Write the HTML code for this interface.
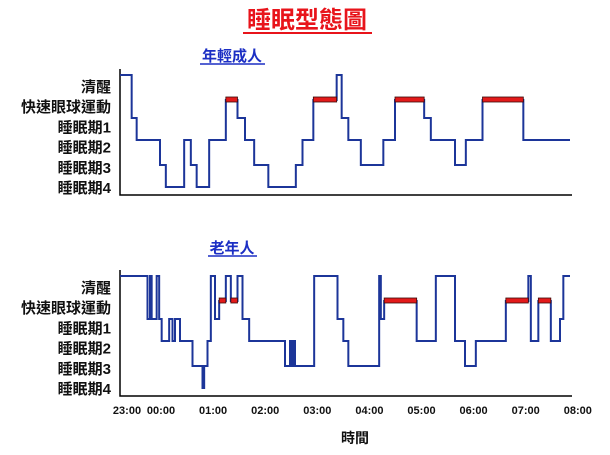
<!DOCTYPE html>
<html><head><meta charset="utf-8"><style>
body{margin:0;background:#fff;}
svg text{font-family:"Liberation Sans","Noto Sans CJK TC",sans-serif;font-weight:bold;}
</style></head><body>
<svg id="c" width="610" height="450" xmlns="http://www.w3.org/2000/svg">
<text x="307" y="28" text-anchor="middle" font-size="24" fill="#e8141b">睡眠型態圖</text>
<line x1="243" y1="33" x2="372" y2="33" stroke="#e8141b" stroke-width="2"/>
<text x="232" y="61" text-anchor="middle" font-size="15" fill="#1c2fc4">年輕成人</text>
<line x1="200" y1="64" x2="265" y2="64" stroke="#1c2fc4" stroke-width="1.5"/>
<text x="232" y="253" text-anchor="middle" font-size="15" fill="#1c2fc4">老年人</text>
<line x1="208" y1="256" x2="257" y2="256" stroke="#1c2fc4" stroke-width="1.5"/>
<text x="355" y="443" text-anchor="middle" font-size="14" fill="#111">時間</text>
<g id="plots"></g>
</svg>
<script>
const stageLabels=["清醒","快速眼球運動","睡眠期1","睡眠期2","睡眠期3","睡眠期4"];
const tickLabels=["23:00","00:00","01:00","02:00","03:00","04:00","05:00","06:00","07:00","08:00"];
// stage: 0=W 1=REM 2=S1 3=S2 4=S3 5=S4 ; times in minutes from 23:00
const youngTimes=[0,14,20,48,55,77,85,92,107,127,141,150,161,178,211,219,232,260,266,274,289,316,330,365,373,402,415,435,484];
const youngStages=[0,2,3,4,5,3,4,5,3,1,2,3,4,5,4,3,1,0,2,3,4,3,1,2,3,4,3,1,3];
const oldTimes=[0,33,36,38,44,47,50,59,63,66,72,87,99,101,105,109,114,119,127,133,141,147,155,198,204,206,208,210,233,261,268,274,311,313,317,356,379,402,414,427,463,490,493,502,517,528,532];
const oldStages=[0,2,0,2,0,2,3,2,3,2,3,4,5,4,3,0,2,1,0,1,0,2,3,4,3,4,3,4,0,2,3,4,0,2,1,3,0,3,4,3,1,0,3,1,3,2,0];
const endTime=540;
const NS="http://www.w3.org/2000/svg";
const g=document.getElementById('plots');
function x(t){return 120+t*(450/540);}
const levelOffsets=[0,25,43,65,90,112];
function yLevel(s,top){return top+levelOffsets[s];}
function labY(i,top){return top+12+i*20.2;}
function mk(tag,attrs){const e=document.createElementNS(NS,tag);for(const k in attrs)e.setAttribute(k,attrs[k]);g.appendChild(e);return e;}
function drawPlot(times,stages,top,name){
  for(let i=0;i<stageLabels.length;i++){
    const t=mk('text',{x:111,y:labY(i,top)+5,'text-anchor':'end','font-size':15,fill:'#111'});
    t.textContent=stageLabels[i];
    
    
  }
  const ax=mk('path',{d:`M120,${top-6} V${top+120} H572`,stroke:'#000',fill:'none','stroke-width':1.5});
  
  
  let d='';
  for(let i=0;i<times.length;i++){
    const x0=x(times[i]),x1=x(i+1<times.length?times[i+1]:endTime),y=yLevel(stages[i],top);
    d+=(i===0?`M${x0},${y}`:`V${y}`)+`H${x1}`;
  }
  const p=mk('path',{d:d,stroke:'#1c3599',fill:'none','stroke-width':2});
  
  
  for(let i=0;i<times.length;i++){
    if(stages[i]!==1)continue;
    const x0=x(times[i]),x1=x(i+1<times.length?times[i+1]:endTime),y=yLevel(1,top);
    const r=mk('rect',{x:x0,y:y-3,width:x1-x0,height:5,fill:'#e31a1a',stroke:'#3a0a0a','stroke-width':0.8});
    
    
  }
}
drawPlot(youngTimes,youngStages,75,'young');
drawPlot(oldTimes,oldStages,276,'elderly');
function xl(i){return 110+i*52;}
for(let i=0;i<tickLabels.length;i++){
  const t=mk('text',{x:i===0?127:xl(i)+(i===1?0:0)+(i>=1?0:0),y:414,'text-anchor':'middle','font-size':11,fill:'#111'});
  if(i>=1)t.setAttribute('x',161+(i-1)*52.1);
  t.textContent=tickLabels[i];
  
  
}
</script>
</body></html>
